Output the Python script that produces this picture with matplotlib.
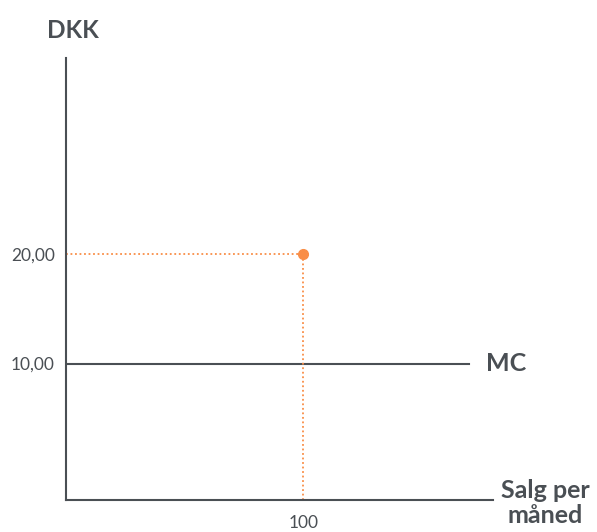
import matplotlib.pyplot as plt

plt.rcParams['font.family'] = ['Lato', 'DejaVu Sans']

# market point and marginal cost
q_point = 100
p_point = 20
mc_level = 10
mc_x = [0, 170]

x_ticks = [100]
x_ticklabels = ['100']
y_ticks = [10, 20]
y_ticklabels = ['10,00', '20,00']

dark = '#4a4f54'
orange = '#f98e47'

fig = plt.figure(figsize=(5.97, 5.32), dpi=100)
ax = fig.add_axes([0.1106, 0.0602, 0.7152, 0.8308])
ax.set_xlim(0, 180)
ax.set_ylim(-2.5, 38)

ax.plot(mc_x, [mc_level, mc_level], color=dark, lw=1.5)
ax.plot([0, q_point], [p_point, p_point], color=orange, lw=1.3, ls=(0, (1, 1.5)))
ax.plot([q_point, q_point], [-2.5, p_point], color=orange, lw=1.3, ls=(0, (1, 1.5)))
ax.plot([q_point], [p_point], 'o', color=orange, ms=7, zorder=5)

for s in ['top', 'right']:
    ax.spines[s].set_visible(False)
for s in ['left', 'bottom']:
    ax.spines[s].set_color(dark)
    ax.spines[s].set_linewidth(1.5)

ax.set_xticks(x_ticks)
ax.set_xticklabels(x_ticklabels)
ax.set_yticks(y_ticks)
ax.set_yticklabels(y_ticklabels)
ax.tick_params(length=0, labelsize=12.5, colors=dark)
ax.tick_params(axis='x', pad=11)
ax.tick_params(axis='y', pad=8)

ax.text(mc_x[1] + 7, mc_level, 'MC', fontsize=18, fontweight='bold',
        color=dark, va='center', ha='left')
fig.text(47 / 597, 1 - 30 / 532, 'DKK', fontsize=17.5, fontweight='bold',
         color=dark, va='center', ha='left')
fig.text(545 / 597, 1 - 503 / 532, 'Salg per\nmåned', fontsize=18,
         fontweight='bold', color=dark, va='center', ha='center',
         linespacing=1.12)

fig.savefig('out.png', dpi=100)
